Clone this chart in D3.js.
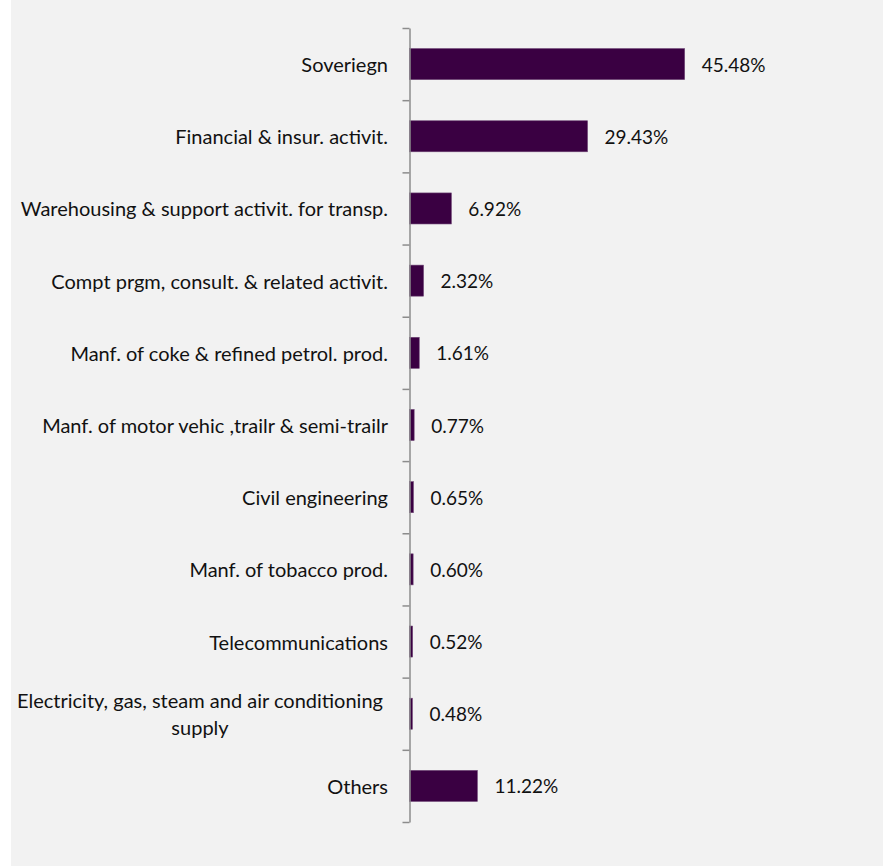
<!DOCTYPE html>
<html>
<head>
<meta charset="utf-8">
<script src="https://cdn.jsdelivr.net/npm/d3@7"></script>
<style>
  html, body { margin: 0; padding: 0; background: #ffffff; }
  svg { display: block; }
</style>
</head>
<body>
<svg id="chart" width="893" height="867"></svg>
<script>
// Sector breakdown of the portfolio (share of total, %)
const categories = [
  "Soveriegn",
  "Financial & insur. activit.",
  "Warehousing & support activit. for transp.",
  "Compt prgm, consult. & related activit.",
  "Manf. of coke & refined petrol. prod.",
  "Manf. of motor vehic ,trailr & semi-trailr",
  "Civil engineering",
  "Manf. of tobacco prod.",
  "Telecommunications",
  "Electricity, gas, steam and air conditioning supply",
  "Others"
];
const values = [45.48, 29.43, 6.92, 2.32, 1.61, 0.77, 0.65, 0.60, 0.52, 0.48, 11.22];
const valueLabels = ["45.48%", "29.43%", "6.92%", "2.32%", "1.61%", "0.77%", "0.65%", "0.60%", "0.52%", "0.48%", "11.22%"];

const FONT = "Lato, 'Noto Sans', sans-serif";
const FS_CAT = 20;
const FS_VAL = 19;

const svg = d3.select("#chart");

// panel background
svg.append("rect")
  .attr("x", 11).attr("y", 0)
  .attr("width", 872).attr("height", 866)
  .attr("fill", "#f2f2f2");

const axisX = 409.5;
const plotTop = 28, plotBottom = 822;
const n = categories.length;

const x = d3.scaleLinear().domain([0, 50]).range([axisX, axisX + 302.5]);
const y = d3.scaleBand()
  .domain(categories)
  .range([plotTop, plotBottom])
  .paddingInner(0.57)
  .paddingOuter(0.285);

// bars
svg.append("g")
  .selectAll("rect")
  .data(values)
  .join("rect")
  .attr("x", x(0))
  .attr("y", (d, i) => y(categories[i]))
  .attr("width", d => x(d) - x(0))
  .attr("height", y.bandwidth())
  .attr("fill", "#3a0042")
  .attr("stroke", "#6e4575")
  .attr("stroke-width", 0.6);

// value labels
svg.append("g")
  .selectAll("text")
  .data(values)
  .join("text")
  .attr("x", d => x(d) + 17)
  .attr("y", (d, i) => y(categories[i]) + y.bandwidth() / 2)
  .attr("dominant-baseline", "central")
  .attr("font-family", FONT)
  .attr("font-size", FS_VAL)
  .attr("fill", "#111")
  .text((d, i) => valueLabels[i]);

// category axis: ticks sit on the band boundaries
const edge = d3.scaleLinear().domain([0, n]).range([plotTop, plotBottom]);
const axisG = svg.append("g")
  .attr("transform", `translate(${axisX},0)`)
  .call(d3.axisLeft(edge).tickValues(d3.range(n + 1)).tickSize(7).tickSizeOuter(0).tickFormat(""));
axisG.selectAll("path, line").attr("stroke", "#8c8c8c").attr("stroke-width", 1.5);

// category labels, wrapped when wider than the label area
const labelRight = 388;
const wrapWidth = 376;
const labelsG = svg.append("g")
  .attr("font-family", FONT)
  .attr("font-size", FS_CAT)
  .attr("fill", "#111");

categories.forEach((name, i) => {
  const cy = y(name) + y.bandwidth() / 2;
  const t = labelsG.append("text").attr("dominant-baseline", "central");
  t.text(name);
  if (t.node().getComputedTextLength() <= wrapWidth) {
    t.attr("x", labelRight).attr("y", cy).attr("text-anchor", "end");
    return;
  }
  // greedy word wrap
  const words = name.split(" ");
  const lines = [];
  let line = [];
  words.forEach(w => {
    line.push(w);
    t.text(line.join(" "));
    if (t.node().getComputedTextLength() > wrapWidth && line.length > 1) {
      line.pop();
      lines.push(line.join(" "));
      line = [w];
    }
  });
  lines.push(line.join(" "));
  t.text(null);
  const lh = 27;
  const cx = labelRight - wrapWidth / 2;
  lines.forEach((l, k) => {
    t.append("tspan")
      .attr("x", cx)
      .attr("y", cy + (k - (lines.length - 1) / 2) * lh)
      .attr("text-anchor", "middle")
      .text(l);
  });
});
</script>
</body>
</html>
